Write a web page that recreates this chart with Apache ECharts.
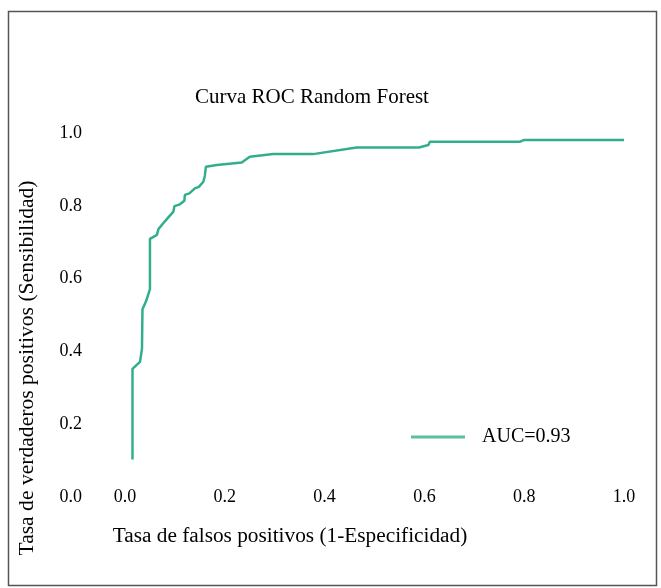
<!DOCTYPE html>
<html>
<head>
<meta charset="utf-8">
<script src="https://cdn.jsdelivr.net/npm/echarts@6/dist/echarts.min.js"></script>
<style>
  html, body { margin: 0; padding: 0; background: #ffffff; }
  #chart { width: 661px; height: 588px; }
</style>
</head>
<body>
<div id="chart"></div>
<script>
// ROC curve of the random forest classifier
const fpr = [0.015, 0.015, 0.030, 0.034, 0.035, 0.042, 0.050, 0.050, 0.064, 0.067,
             0.079, 0.097, 0.099, 0.110, 0.119, 0.120, 0.129, 0.140, 0.148, 0.157,
             0.160, 0.162, 0.184, 0.234, 0.250, 0.297, 0.377, 0.464, 0.589, 0.608,
             0.611, 0.792, 0.800, 1.000];
const tpr = [0.103, 0.352, 0.371, 0.407, 0.516, 0.537, 0.571, 0.709, 0.720, 0.736,
             0.756, 0.784, 0.799, 0.804, 0.814, 0.830, 0.834, 0.848, 0.852, 0.866,
             0.882, 0.907, 0.912, 0.919, 0.935, 0.942, 0.942, 0.960, 0.960, 0.967,
             0.976, 0.976, 0.981, 0.981];
const seriesName = 'AUC=0.93';
const axisTicks = [0, 0.2, 0.4, 0.6, 0.8, 1.0];

const serif = '"Liberation Serif", "Times New Roman", serif';
const curveColor = '#33ae8c';

const points = fpr.map((x, i) => [x, tpr[i]]);

const chart = echarts.init(document.getElementById('chart'), null, { renderer: 'canvas' });

const axisCommon = {
  type: 'value',
  min: axisTicks[0],
  max: axisTicks[axisTicks.length - 1],
  interval: 0.2,
  axisLine: { show: false },
  axisTick: { show: false },
  splitLine: { show: false },
};

chart.setOption({
  backgroundColor: '#ffffff',
  animation: false,
  grid: { left: 125, right: 37, top: 133, bottom: 91 },
  xAxis: Object.assign({}, axisCommon, {
    axisLabel: {
      margin: 0,
      verticalAlign: 'middle',
      fontFamily: serif,
      fontSize: 18,
      color: '#000',
      formatter: v => v.toFixed(1)
    }
  }),
  yAxis: Object.assign({}, axisCommon, {
    axisLabel: {
      margin: 43,
      fontFamily: serif,
      fontSize: 18,
      color: '#000',
      formatter: v => v.toFixed(1)
    }
  }),
  legend: {
    left: 411,
    top: 427,
    padding: 0,
    icon: 'rect',
    itemWidth: 54,
    itemHeight: 3,
    data: [seriesName],
    itemStyle: { color: '#5cbf9f' },
    textStyle: { fontFamily: serif, fontSize: 20, color: '#000', padding: [0, 0, 0, 12] }
  },
  series: [{
    name: seriesName,
    type: 'line',
    data: points,
    symbol: 'none',
    lineStyle: { color: curveColor, width: 2.5 },
    itemStyle: { color: curveColor }
  }],
  graphic: [
    {
      type: 'rect',
      shape: { x: 8.5, y: 11.5, width: 648, height: 574 },
      style: { fill: 'none', stroke: '#555', lineWidth: 1.5 },
      silent: true
    },
    {
      type: 'text',
      x: 312, y: 97,
      style: {
        text: 'Curva ROC Random Forest',
        font: '21px ' + serif,
        fill: '#000',
        align: 'center',
        verticalAlign: 'middle'
      }
    },
    {
      type: 'text',
      x: 290, y: 536,
      style: {
        text: 'Tasa de falsos positivos (1-Especificidad)',
        font: '21.3px ' + serif,
        fill: '#000',
        align: 'center',
        verticalAlign: 'middle'
      }
    },
    {
      type: 'text',
      x: 27, y: 368,
      rotation: Math.PI / 2,
      style: {
        text: 'Tasa de verdaderos positivos (Sensibilidad)',
        font: '21.6px ' + serif,
        fill: '#000',
        align: 'center',
        verticalAlign: 'middle'
      }
    }
  ]
});
</script>
</body>
</html>
